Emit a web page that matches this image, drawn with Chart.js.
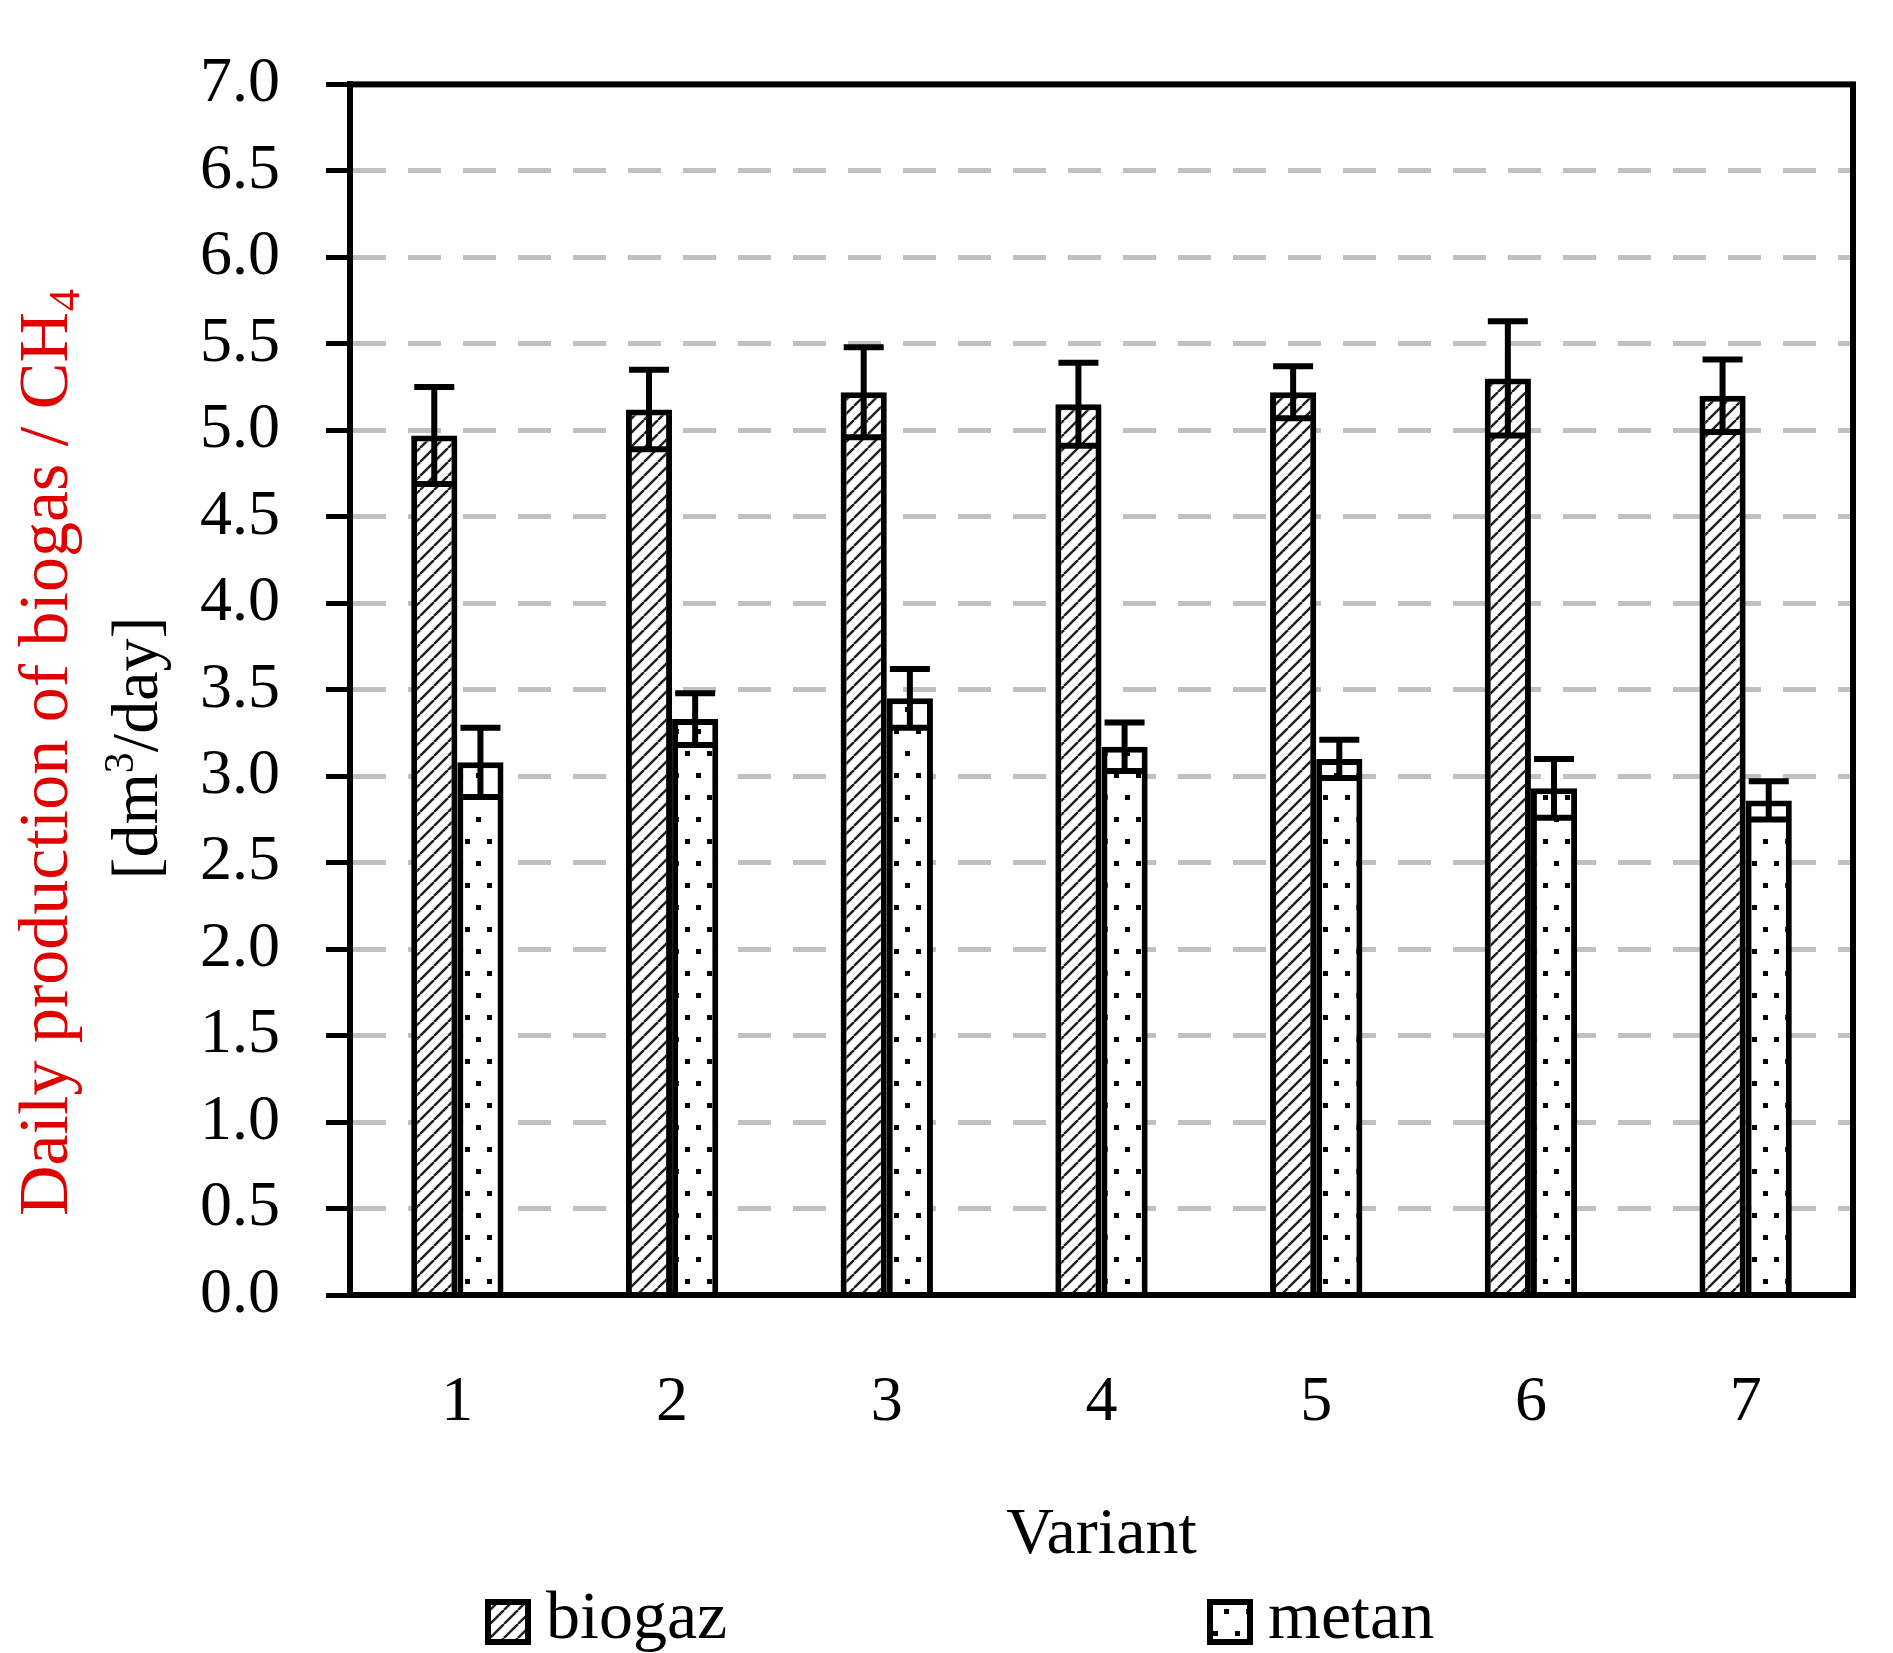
<!DOCTYPE html>
<html><head><meta charset="utf-8">
<script src="https://cdn.jsdelivr.net/npm/chart.js@4.4.1/dist/chart.umd.min.js"></script>
<style>html,body{margin:0;padding:0;background:#fff}#wrap{width:1893px;height:1653px}</style>
</head><body><div id="wrap"><canvas id="c" width="1893" height="1653"></canvas></div>
<script>
const variants=['1','2','3','4','5','6','7'];
const biogaz=[4.97,5.12,5.22,5.15,5.22,5.30,5.20];
const biogazErr=[0.28,0.23,0.26,0.24,0.15,0.33,0.21];
const metan=[3.08,3.33,3.45,3.17,3.10,2.93,2.86];
const metanErr=[0.20,0.15,0.17,0.14,0.11,0.17,0.11];
const FONT='"Liberation Serif","DejaVu Serif",serif';

function hatch(){
  const c=document.createElement('canvas');c.width=14;c.height=14;
  const x=c.getContext('2d');x.fillStyle='#fff';x.fillRect(0,0,14,14);
  x.strokeStyle='#222';x.lineWidth=2.5;
  for(let o=-14;o<=28;o+=14){x.beginPath();x.moveTo(o,14);x.lineTo(o+14,0);x.stroke();}
  return x.createPattern(c,'repeat');
}
function dots(){
  const c=document.createElement('canvas');c.width=22;c.height=44;
  const x=c.getContext('2d');x.fillStyle='#fff';x.fillRect(0,0,22,44);
  x.fillStyle='#000';x.fillRect(3,3,5,5);x.fillRect(14,25,5,5);
  return x.createPattern(c,'repeat');
}
const ctx=document.getElementById('c').getContext('2d');
const pH=hatch(),pD=dots();

const extras={id:'extras',
  afterDatasetsDraw(ch){
    const g=ch.ctx,y=ch.scales.y;
    [[0,biogaz,biogazErr],[1,metan,metanErr]].forEach(([di,vals,errs])=>{
      ch.getDatasetMeta(di).data.forEach((b,i)=>{
        const yt=y.getPixelForValue(vals[i]+errs[i]),yb=y.getPixelForValue(vals[i]-errs[i]);
        g.save();g.strokeStyle='#000';g.lineWidth=6;
        g.beginPath();g.moveTo(b.x,yt);g.lineTo(b.x,yb);
        g.moveTo(b.x-20,yt);g.lineTo(b.x+20,yt);g.moveTo(b.x-20,yb);g.lineTo(b.x+20,yb);g.stroke();g.restore();
      });
    });
  },
  afterDraw(ch){
    const g=ch.ctx,a=ch.chartArea;
    g.save();g.strokeStyle='#000';g.lineWidth=6;
    g.strokeRect(a.left,a.top,a.right-a.left,a.bottom-a.top);
    g.fillStyle='#000';g.font='66px '+FONT;g.textAlign='center';g.textBaseline='middle';
    g.fillText('Variant',(a.left+a.right)/2,1536);
    // y title
    g.translate(49,748);g.rotate(-Math.PI/2);
    g.fillStyle='#e00000';g.font='70px '+FONT;g.textAlign='center';
    const t='Daily production of biogas / CH';
    const w=g.measureText(t).width;
    g.fillText(t,-16,0);
    g.font='44px '+FONT;g.fillText('4',-16+w/2+12,18);
    g.fillStyle='#000';g.font='66px '+FONT;
    g.translate(0,91);
    const l1='[dm',l2='/day]';
    const w1=g.measureText(l1).width,w2=g.measureText(l2).width;
    g.font='42px '+FONT;const ws=g.measureText('3').width;
    const tot=w1+w2+ws;let x0=-tot/2;
    g.textAlign='left';g.font='66px '+FONT;g.fillText(l1,x0,0);
    g.font='42px '+FONT;g.fillText('3',x0+w1,-18);
    g.font='66px '+FONT;g.fillText(l2,x0+w1+ws,0);
    g.setTransform(1,0,0,1,0,0);
    // legend
    const lg=[[pH,488,'biogaz'],[pD,1210,'metan']];
    lg.forEach(([p,x,t])=>{
      g.fillStyle=p;g.fillRect(x,1602,40,40);g.lineWidth=6;g.strokeStyle='#000';g.strokeRect(x,1602,40,40);
      g.fillStyle='#000';g.font='68px '+FONT;g.textAlign='left';g.textBaseline='middle';g.fillText(t,x+58,1620);
    });
    g.restore();
  }};

new Chart(ctx,{type:'bar',
  data:{labels:variants,datasets:[
    {label:'biogaz',data:biogaz,backgroundColor:pH,borderColor:'#000',borderWidth:6,borderSkipped:'bottom'},
    {label:'metan',data:metan,backgroundColor:pD,borderColor:'#000',borderWidth:6,borderSkipped:'bottom'}]},
  options:{responsive:false,animation:false,devicePixelRatio:1,
    layout:{padding:{left:0,top:34,right:40,bottom:0}},
    datasets:{bar:{categoryPercentage:0.43,barPercentage:1}},
    plugins:{legend:{display:false},tooltip:{enabled:false}},
    scales:{
      x:{grid:{display:false},border:{color:'#000',width:6},
        ticks:{color:'#000',font:{family:FONT,size:64},padding:62},
        afterFit(s){s.height=358;}},
      y:{min:0,max:7,
        ticks:{stepSize:0.5,color:'#000',font:{family:FONT,size:64},padding:46,callback:v=>v.toFixed(1)},
        grid:{color:'#c0c0c0',lineWidth:5,tickLength:24,tickColor:'#000',tickWidth:5},
        border:{color:'#000',width:6,dash:[33,22]},
        afterFit(s){s.width=350;}}
    }},
  plugins:[extras]});
</script></body></html>
